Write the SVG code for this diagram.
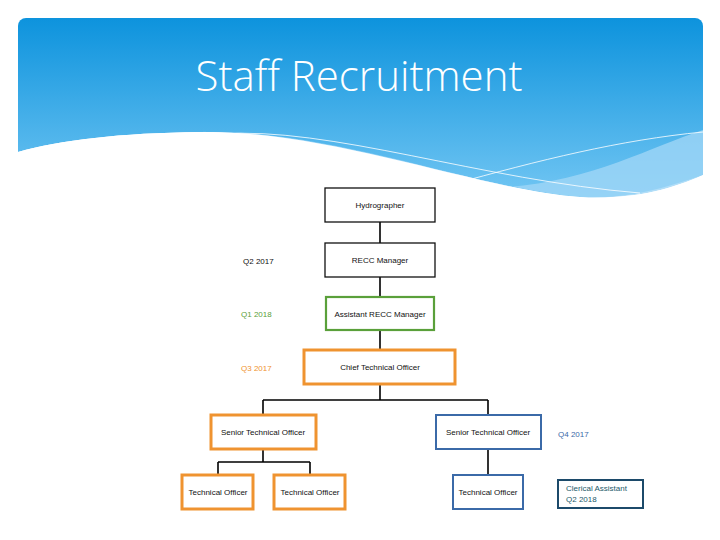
<svg xmlns="http://www.w3.org/2000/svg" width="720" height="540" viewBox="0 0 720 540">
<defs>
<linearGradient id="hg" x1="0" y1="0" x2="0" y2="1"><stop offset="0" stop-color="#0d93dd"/><stop offset="1" stop-color="#72c6f3"/></linearGradient>
<clipPath id="cp"><rect x="18" y="18" width="685" height="200" rx="8"/></clipPath>
</defs>
<style>
.n{fill:#fff;stroke:#111;stroke-width:1.3}
.g{fill:#fff;stroke:#5aa03a;stroke-width:2.2}
.o{fill:#fff;stroke:#ef9330;stroke-width:3}
.b{fill:#fff;stroke:#3b6aa8;stroke-width:2}
.t{font-family:"Liberation Sans",Arial,sans-serif;font-size:8px;fill:#111;text-anchor:middle}
.l{font-family:"Liberation Sans",Arial,sans-serif;font-size:8px}
#conn path{fill:none;stroke:#000;stroke-width:1.6}
</style>
<rect width="720" height="540" fill="#fff"/>
<g id="header" clip-path="url(#cp)">
<path d="M18 18H703V175C660 190 620 200 580 197C480 190 330 130 200 132C120 133 60 140 18 152Z" fill="url(#hg)"/>
<path d="M200 132C330 128 480 190 580 197C630 200 670 190 703 175V130C640 150 560 200 440 185C360 175 290 128 200 132Z" fill="#9fd6f6" opacity="0.8"/>
<path d="M18 152C60 140 120 133 200 132C330 130 480 190 580 197C630 200 670 190 703 175V540H18Z" fill="#fff"/>
<path d="M220 134C330 126 480 180 640 193" fill="none" stroke="#fff" stroke-width="0.8"/>
<path d="M450 185C540 160 620 140 703 132" fill="none" stroke="#fff" stroke-width="0.8"/>
<text x="359" y="91" font-family="Open Sans,Lato,sans-serif" font-size="42" fill="#fff" text-anchor="middle" font-weight="300">Staff Recruitment</text>
</g>
<g id="conn">
<path d="M380 222V243M380 277V297M380 330V350M380 384V400M263 400H488M263 400V415M488 400V415M263 449V462M218 462H310M218 462V474M310 462V474M488 449V474"/>
</g>
<g id="hydro"><rect class="n" x="325" y="188" width="110" height="34"/><text class="t" x="380" y="208">Hydrographer</text></g>
<g id="recc"><rect class="n" x="325" y="243" width="110" height="34"/><text class="t" x="380" y="263">RECC Manager</text></g>
<g id="asst"><rect class="g" x="326" y="297" width="108" height="33"/><text class="t" x="380" y="317">Assistant RECC Manager</text></g>
<g id="cto"><rect class="o" x="304" y="350" width="151" height="34"/><text class="t" x="380" y="370">Chief Technical Officer</text></g>
<g id="sto1"><rect class="o" x="211" y="415" width="105" height="34"/><text class="t" x="263" y="435">Senior Technical Officer</text></g>
<g id="sto2"><rect class="b" x="436" y="415" width="105" height="34"/><text class="t" x="488" y="435">Senior Technical Officer</text></g>
<g id="to1"><rect class="o" x="182" y="475" width="71" height="34"/><text class="t" x="218" y="495">Technical Officer</text></g>
<g id="to2"><rect class="o" x="274" y="475" width="71" height="34"/><text class="t" x="310" y="495">Technical Officer</text></g>
<g id="to3"><rect class="b" x="453" y="475" width="70" height="34"/><text class="t" x="488" y="495">Technical Officer</text></g>
<g id="clerk"><rect x="558" y="480" width="85" height="28" fill="#fff" stroke="#1c4a6a" stroke-width="2"/><text class="l" x="566" y="491" fill="#1c5a6a">Clerical Assistant</text><text class="l" x="566" y="502" fill="#1c5a6a">Q2 2018</text></g>
<g id="labels">
<text class="l" x="243" y="264" fill="#111">Q2 2017</text>
<text class="l" x="241" y="317" fill="#5aa03a">Q1 2018</text>
<text class="l" x="241" y="371" fill="#ef9330">Q3 2017</text>
<text class="l" x="558" y="437" fill="#3b6aa8">Q4 2017</text>
</g>
</svg>
